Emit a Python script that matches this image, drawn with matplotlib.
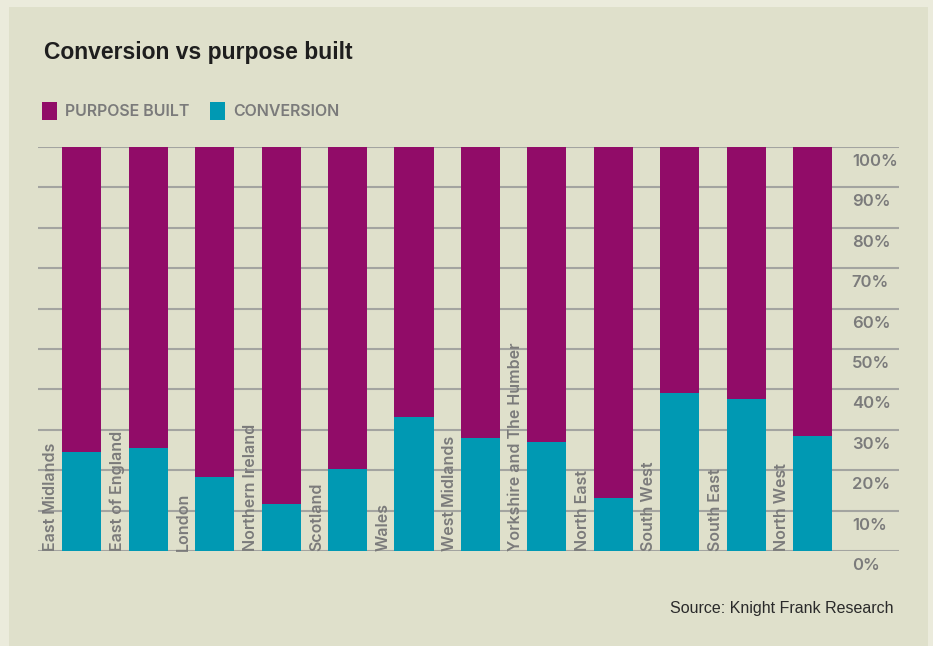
import matplotlib.pyplot as plt
import numpy as np
from matplotlib.patches import Rectangle
from matplotlib.transforms import ScaledTranslation

# ---------------- data ----------------
regions = ["East Midlands", "East of England", "London", "Northern Ireland",
           "Scotland", "Wales", "West Midlands", "Yorkshire and The Humber",
           "North East", "South West", "South East", "North West"]
conversion = [24.6, 25.5, 18.3, 11.6, 20.3, 33.2, 28.0, 27.0, 13.1, 39.1, 37.6, 28.5]
purpose_built = [100 - c for c in conversion]
yticks = [0, 10, 20, 30, 40, 50, 60, 70, 80, 90, 100]
ytick_labels = [f"{t}%" for t in yticks]

# ---------------- style ----------------
PURPLE = "#910c68"
TEAL = "#0099b3"
OUTER = "#ebebdc"
PANEL = "#dfe0cb"
GREY = "#7b7b7b"
GRID = "#a3a4a0"
FONT = "Liberation Sans"
LABEL_FONT = ["Inter", "DejaVu Sans"]

plt.rcParams['font.family'] = [FONT, 'DejaVu Sans']

W, H = 933, 646
fig = plt.figure(figsize=(W / 100, H / 100), dpi=100)
fig.patch.set_facecolor(OUTER)

# inner panel
fig.patches.append(Rectangle((9 / W, 0), (928 - 9) / W, (H - 7) / H,
                             transform=fig.transFigure, facecolor=PANEL,
                             edgecolor="none", zorder=-10))

ax = fig.add_axes([38 / W, (H - 551) / H, (899 - 38) / W, (551 - 147) / H])
ax.set_facecolor("none")
ax.set_zorder(1)

x = np.arange(len(regions))
width = 0.59

b_conv = ax.bar(x, conversion, width, color=TEAL, zorder=3, label="CONVERSION")
b_pb = ax.bar(x, purpose_built, width, bottom=conversion, color=PURPLE,
              zorder=3, label="PURPOSE BUILT", clip_on=False)

ax.set_xlim(-0.66, 12.30)
ax.set_ylim(0, 100)

# gridlines
ax.set_yticks(yticks)
ax.yaxis.grid(True, color=GRID, linewidth=1.5, zorder=1)
ax.set_axisbelow(True)
ax.set_xticks([])
for s in ax.spines.values():
    s.set_visible(False)

# y tick labels on the right, sitting just below each gridline
ax.yaxis.tick_right()
ax.set_yticklabels(ytick_labels, fontsize=12, color=GREY, va="top",
                   family=LABEL_FONT, fontweight="semibold")
ax.tick_params(axis="y", length=0, pad=-34)
offset = ScaledTranslation(0, -5 / 72, fig.dpi_scale_trans)
for lab in ax.get_yticklabels():
    lab.set_transform(lab.get_transform() + offset)
    lab.set_horizontalalignment("left")

# region labels, rotated, left of each bar
for xi, name in zip(x, regions):
    ax.text(xi - 0.467, 0, name, rotation=90, ha="center", va="bottom",
            fontsize=11.5, color=GREY, zorder=2, family=LABEL_FONT,
            fontweight="semibold")

# title
fig.text(44 / W, 1 - 53 / H, "Conversion vs purpose built", fontsize=16.5,
         fontweight="bold", color="#1e1e1e", va="center", ha="left")

# legend
fig.legend(handles=[b_pb, b_conv], labels=["PURPOSE BUILT", "CONVERSION"],
           loc="center left", bbox_to_anchor=(34 / W, 1 - 111 / H), ncol=2,
           frameon=False, handlelength=0.95, handleheight=1.3,
           handletextpad=0.5, columnspacing=1.3, borderpad=0,
           labelcolor=GREY, prop={"family": LABEL_FONT, "weight": "semibold",
                                  "size": 11.5})

# source
fig.text(894 / W, 1 - 608 / H, "Source: Knight Frank Research", fontsize=11.5,
         color="#2a2a2a", ha="right", va="center")

fig.savefig("out.png", dpi=100, facecolor=OUTER)
